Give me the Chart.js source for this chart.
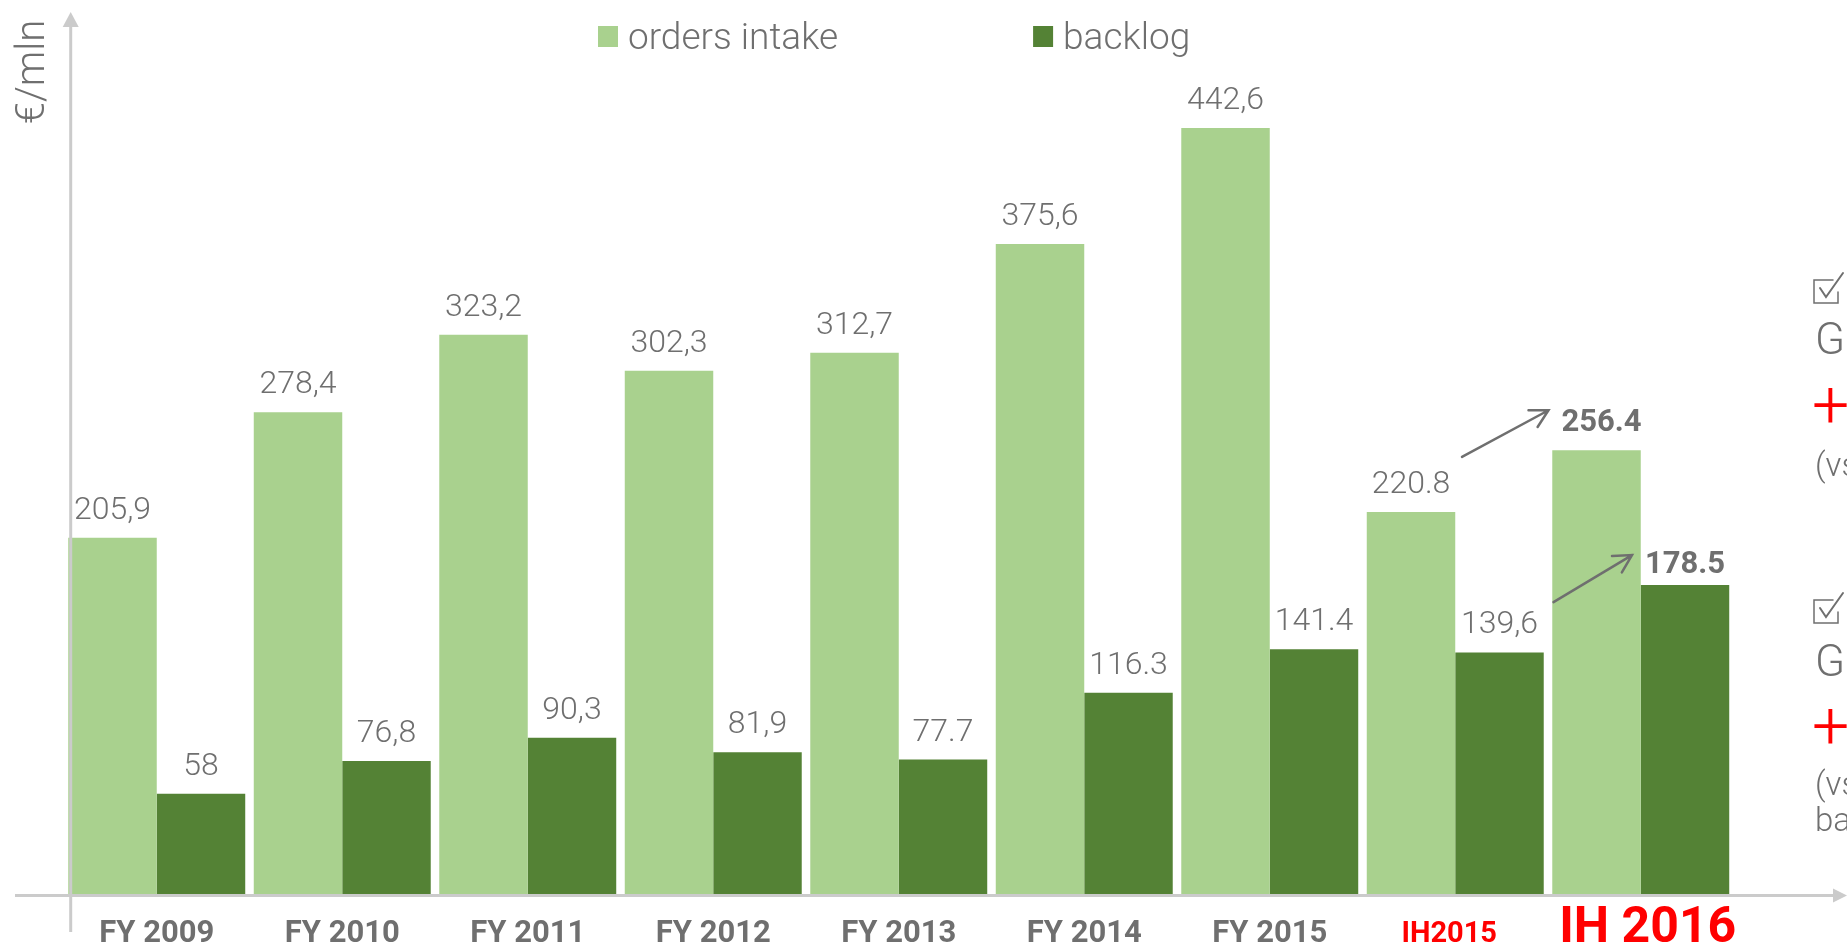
<!DOCTYPE html>
<html>
<head>
<meta charset="utf-8">
<script src="https://cdn.jsdelivr.net/npm/chart.js@4.4.1/dist/chart.umd.min.js"></script>
<style>
html,body{margin:0;padding:0;background:#fff;overflow:hidden}
canvas{display:block}
</style>
</head>
<body>
<canvas id="c" width="1847" height="947"></canvas>
<script>
// ---- data ----
const categories = ['FY 2009','FY 2010','FY 2011','FY 2012','FY 2013','FY 2014','FY 2015','IH2015','IH 2016'];
const ordersIntake = [205.9, 278.4, 323.2, 302.3, 312.7, 375.6, 442.6, 220.8, 256.4];
const backlog = [58, 76.8, 90.3, 81.9, 77.7, 116.3, 141.4, 139.6, 178.5];
const ordersLabels = ['205,9','278,4','323,2','302,3','312,7','375,6','442,6','220.8','256.4'];
const backlogLabels = ['58','76,8','90,3','81,9','77.7','116.3','141.4','139,6','178.5'];
const seriesNames = ['orders intake', 'backlog'];
const yAxisTitle = '€/mln';
const noteOrders = ['Growth in orders intake', '+16%', '(vs IH2015)'];
const noteBacklog = ['Growth in backlog', '+28%', '(vs IH2015', 'backlog)'];

// ---- style ----
const LIGHT = '#a9d18e';
const DARK = '#548235';
const GRAY = '#6f6f6f';
const AXIS = '#cbcbcb';
const RED = '#ff0000';

function arrow(ctx, x1, y1, x2, y2) {
  const a = Math.atan2(y2 - y1, x2 - x1);
  const L = 20, s = 0.5;
  ctx.beginPath();
  ctx.moveTo(x1, y1); ctx.lineTo(x2, y2);
  ctx.moveTo(x2 - L * Math.cos(a - s), y2 - L * Math.sin(a - s));
  ctx.lineTo(x2, y2);
  ctx.lineTo(x2 - L * Math.cos(a + s), y2 - L * Math.sin(a + s));
  ctx.stroke();
}

function checkbox(ctx, x, y) {
  ctx.save();
  ctx.strokeStyle = GRAY;
  ctx.lineWidth = 1.5;
  ctx.beginPath();
  ctx.moveTo(x + 19, y); ctx.lineTo(x, y); ctx.lineTo(x, y + 23); ctx.lineTo(x + 24, y + 23); ctx.lineTo(x + 24, y + 12);
  ctx.stroke();
  ctx.lineWidth = 2;
  ctx.beginPath();
  ctx.moveTo(x + 6, y + 8); ctx.lineTo(x + 12, y + 17); ctx.lineTo(x + 29, y - 7);
  ctx.stroke();
  ctx.restore();
}

const annot = {
  id: 'annot',
  afterDatasetsDraw(chart) {
    const ctx = chart.ctx;
    const ys = chart.scales.y;
    const area = chart.chartArea;
    const m0 = chart.getDatasetMeta(0).data;
    const m1 = chart.getDatasetMeta(1).data;
    ctx.save();

    // axes
    const ax = area.left + 6.7;
    const base = ys.getPixelForValue(0) + 1.5;
    ctx.strokeStyle = AXIS; ctx.fillStyle = AXIS; ctx.lineWidth = 3;
    ctx.beginPath(); ctx.moveTo(ax, 932); ctx.lineTo(ax, 25); ctx.stroke();
    ctx.beginPath(); ctx.moveTo(ax, 12); ctx.lineTo(ax - 8, 27); ctx.lineTo(ax + 8, 27); ctx.closePath(); ctx.fill();
    ctx.beginPath(); ctx.moveTo(15, base); ctx.lineTo(1835, base); ctx.stroke();
    ctx.beginPath(); ctx.moveTo(1847, base); ctx.lineTo(1833, base - 7); ctx.lineTo(1833, base + 7); ctx.closePath(); ctx.fill();

    // y axis title
    ctx.save();
    ctx.fillStyle = GRAY;
    ctx.font = '300 40px Roboto';
    ctx.translate(44, 72);
    ctx.rotate(-Math.PI / 2);
    ctx.textAlign = 'center'; ctx.textBaseline = 'alphabetic';
    ctx.fillText(yAxisTitle, 0, 0);
    ctx.restore();

    // value labels
    ctx.textAlign = 'center'; ctx.textBaseline = 'alphabetic'; ctx.fillStyle = GRAY;
    const last = categories.length - 1;
    for (let i = 0; i < categories.length; i++) {
      if (i === last) {
        ctx.font = 'bold 31px Roboto';
        ctx.fillText(ordersLabels[i], m0[i].x + 5, m0[i].y - 19);
        ctx.fillText(backlogLabels[i], m1[i].x, m1[i].y - 12);
      } else {
        ctx.font = '300 32px Roboto';
        ctx.fillText(ordersLabels[i], m0[i].x, m0[i].y - 19);
        ctx.fillText(backlogLabels[i], m1[i].x, m1[i].y - 19);
      }
    }

    // category labels
    const xs = chart.scales.x;
    for (let i = 0; i < categories.length; i++) {
      let cx = xs.getPixelForValue(i);
      if (i === last) { ctx.font = 'bold 50px Roboto'; ctx.fillStyle = RED; cx += 7; }
      else if (i === last - 1) { ctx.font = 'bold 29px Roboto'; ctx.fillStyle = RED; cx -= 6; }
      else { ctx.font = 'bold 31px Roboto'; ctx.fillStyle = GRAY; }
      ctx.fillText(categories[i], cx, 942);
    }

    // arrows
    ctx.strokeStyle = GRAY; ctx.lineWidth = 2.5; ctx.lineCap = 'round';
    arrow(ctx, m0[last - 1].x + 51, m0[last - 1].y - 55, m0[last].x - 48, m0[last].y - 40);
    arrow(ctx, m0[last].x - 43, m1[last].y + 17, m1[last].x - 53, m1[last].y - 30);

    // legend
    ctx.textAlign = 'left';
    ctx.font = '300 37px Roboto';
    let lx = 598;
    [LIGHT, DARK].forEach((col, k) => {
      ctx.fillStyle = col;
      ctx.fillRect(lx, 26, 20, 21);
      ctx.fillStyle = GRAY;
      ctx.fillText(seriesNames[k], lx + 30, 49);
      lx += 30 + ctx.measureText(seriesNames[k]).width + 195;
    });

    // right-side notes (clipped by canvas edge)
    checkbox(ctx, 1814, 280);
    ctx.fillStyle = GRAY; ctx.font = '300 44px Roboto';
    ctx.fillText(noteOrders[0], 1815, 354);
    ctx.fillStyle = RED; ctx.font = '300 66px Roboto';
    ctx.fillText(noteOrders[1], 1812, 428);
    ctx.fillStyle = GRAY; ctx.font = '300 33px Roboto';
    ctx.fillText(noteOrders[2], 1815, 476);

    checkbox(ctx, 1814, 600);
    ctx.fillStyle = GRAY; ctx.font = '300 44px Roboto';
    ctx.fillText(noteBacklog[0], 1815, 676);
    ctx.fillStyle = RED; ctx.font = '300 66px Roboto';
    ctx.fillText(noteBacklog[1], 1812, 749);
    ctx.fillStyle = GRAY; ctx.font = '300 33px Roboto';
    ctx.fillText(noteBacklog[2], 1815, 795);
    ctx.fillText(noteBacklog[3], 1815, 831);

    ctx.restore();
  }
};

new Chart(document.getElementById('c'), {
  type: 'bar',
  data: {
    labels: categories,
    datasets: [
      { label: seriesNames[0], data: ordersIntake, backgroundColor: LIGHT, borderWidth: 0 },
      { label: seriesNames[1], data: backlog, backgroundColor: DARK, borderWidth: 0 }
    ]
  },
  options: {
    responsive: false,
    devicePixelRatio: 1,
    animation: false,
    layout: { padding: { left: 64, right: 113.5, top: 28.7, bottom: 53 } },
    datasets: { bar: { categoryPercentage: 0.954, barPercentage: 1.0 } },
    plugins: { legend: { display: false }, tooltip: { enabled: false } },
    scales: {
      x: { display: false, offset: true },
      y: { display: false, min: 0, max: 500 }
    }
  },
  plugins: [annot]
});
</script>
</body>
</html>
